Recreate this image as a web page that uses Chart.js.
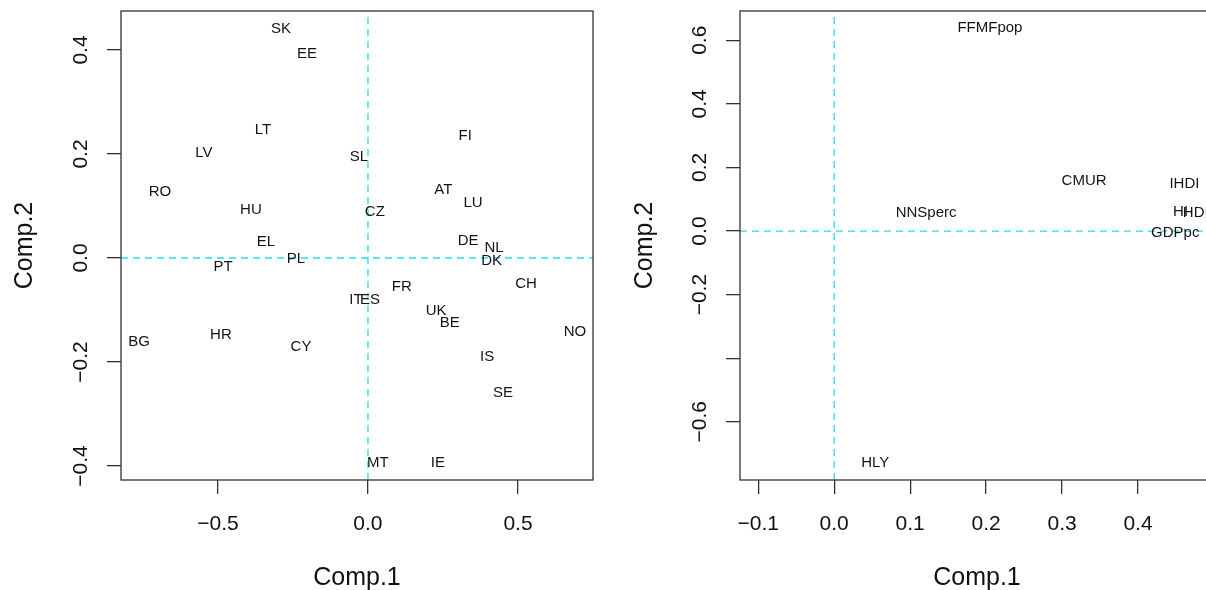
<!DOCTYPE html>
<html>
<head>
<meta charset="utf-8">
<script src="https://cdn.jsdelivr.net/npm/chart.js@4/dist/chart.umd.min.js"></script>
<style>
html,body{margin:0;padding:0;background:#fff;overflow:hidden;width:1206px;height:590px;}
.panel{position:absolute;top:0;}
</style>
</head>
<body>
<div class="panel" style="left:0px"><canvas id="scoresPlot" width="603" height="590"></canvas></div>
<div class="panel" style="left:620px"><canvas id="loadingsPlot" width="604" height="590"></canvas></div>
<script>
// country scores on the first two components
var countries = ['SK','EE','LT','FI','LV','SL','RO','AT','LU','HU','CZ','EL','DE','NL','PL','DK','PT','CH','FR','IT','ES','UK','BE','NO','HR','BG','CY','IS','SE','MT','IE'];
var scoreComp1 = [-0.29,-0.203,-0.35,0.324,-0.547,-0.03,-0.693,0.251,0.35,-0.39,0.023,-0.34,0.334,0.42,-0.24,0.412,-0.483,0.527,0.113,-0.04,0.007,0.227,0.273,0.69,-0.49,-0.763,-0.223,0.397,0.45,0.033,0.233];
var scoreComp2 = [0.440,0.392,0.246,0.235,0.202,0.194,0.127,0.131,0.106,0.092,0.088,0.031,0.033,0.019,-0.002,-0.006,-0.017,-0.050,-0.056,-0.081,-0.081,-0.102,-0.125,-0.143,-0.148,-0.162,-0.171,-0.191,-0.259,-0.394,-0.394];

// variable loadings
var variables = ['FFMFpop','CMUR','IHDI','NNSperc','HI','HDI','GDPpc','HLY'];
var loadComp1 = [0.205,0.329,0.461,0.121,0.456,0.476,0.449,0.054];
var loadComp2 = [0.638,0.157,0.148,0.057,0.060,0.056,-0.006,-0.730];

// axis ranges and ticks
var scoreXRange = [-0.823,0.75];
var scoreYRange = [-0.427,0.475];
var scoreXTicks = [-0.5,0,0.5];
var scoreYTicks = [-0.4,-0.2,0,0.2,0.4];
var scoreYLabels = ['\u22120.4','\u22120.2','0.0','0.2','0.4'];

var loadXRange = [-0.124,0.5];
var loadYRange = [-0.783,0.692];
var loadXTicks = [-0.1,0,0.1,0.2,0.3,0.4];
var loadYTicks = [-0.6,-0.4,-0.2,0,0.2,0.4,0.6];
var loadYLabels = ['\u22120.6','','\u22120.2','0.0','0.2','0.4','0.6'];

var FONT = '"Liberation Sans", Arial, sans-serif';
var CYAN = '#22e0ea';
var AXIS_COL = '#333';

function fmtTick(v){
	return v.toFixed(1).replace('-','\u2212');
}

// text labels at each point, the box, and rotated y tick labels
var biplotPlugin = {
	id:'biplot',
	afterDatasetsDraw:function(chart){
		var ctx = chart.ctx;
		var meta = chart.getDatasetMeta(2);
		var names = chart.options.plugins.biplot.names;
		ctx.save();
		ctx.font = '15px ' + FONT;
		ctx.fillStyle = '#141414';
		ctx.textAlign = 'center';
		ctx.textBaseline = 'middle';
		for(var i=0;i<meta.data.length;i++){
			ctx.fillText(names[i], meta.data[i].x, meta.data[i].y);
		}
		ctx.restore();
	},
	afterDraw:function(chart){
		var ctx = chart.ctx, a = chart.chartArea;
		var yScale = chart.scales.y;
		var opt = chart.options.plugins.biplot;
		ctx.save();
		ctx.strokeStyle = AXIS_COL;
		ctx.lineWidth = 1.3;
		ctx.strokeRect(a.left, a.top, a.right - a.left, a.bottom - a.top);
		ctx.font = '21px ' + FONT;
		ctx.fillStyle = '#111';
		ctx.textAlign = 'center';
		ctx.textBaseline = 'middle';
		for(var i=0;i<opt.yTicks.length;i++){
			if(!opt.yLabels[i]) continue;
			ctx.save();
			ctx.translate(a.left - 40, yScale.getPixelForValue(opt.yTicks[i]));
			ctx.rotate(-Math.PI/2);
			ctx.fillText(opt.yLabels[i], 0, 0);
			ctx.restore();
		}
		ctx.restore();
	}
};

function makeBiplot(canvasId, names, xs, ys, xRange, yRange, xTicks, yTicks, yLabels, yAxisWidth){
	var points = [];
	for(var i=0;i<names.length;i++){
		points.push({x:xs[i], y:ys[i]});
	}
	var refLine = {type:'line', borderColor:CYAN, borderWidth:1.3, borderDash:[7,5], pointRadius:0, fill:false};
	return new Chart(document.getElementById(canvasId).getContext('2d'), {
		type:'scatter',
		data:{
			datasets:[
				Object.assign({data:[{x:xRange[0],y:0},{x:xRange[1],y:0}]}, refLine),
				Object.assign({data:[{x:0,y:yRange[0]},{x:0,y:yRange[1]}]}, refLine),
				{data:points, pointRadius:0, pointHoverRadius:0}
			]
		},
		options:{
			responsive:false,
			animation:false,
			devicePixelRatio:1,
			layout:{padding:{left:0, top:11, right:10, bottom:0}},
			plugins:{
				legend:{display:false},
				tooltip:{enabled:false},
				biplot:{names:names, yTicks:yTicks, yLabels:yLabels}
			},
			scales:{
				x:{
					type:'linear', position:'bottom',
					min:xRange[0], max:xRange[1],
					afterBuildTicks:function(s){ s.ticks = xTicks.map(function(v){ return {value:v}; }); },
					afterFit:function(s){ s.height = 110; },
					border:{display:false},
					grid:{drawOnChartArea:false, drawTicks:true, tickLength:14, color:AXIS_COL, lineWidth:1.3},
					ticks:{padding:18, color:'#111', font:{family:FONT, size:21}, maxRotation:0, callback:function(v){ return fmtTick(v); }},
					title:{display:true, text:'Comp.1', color:'#111', font:{family:FONT, size:25}, padding:{top:0, bottom:-3}}
				},
				y:{
					type:'linear', position:'left',
					min:yRange[0], max:yRange[1],
					afterBuildTicks:function(s){ s.ticks = yTicks.map(function(v){ return {value:v}; }); },
					afterFit:function(s){ s.width = yAxisWidth; },
					border:{display:false},
					grid:{drawOnChartArea:false, drawTicks:true, tickLength:14, color:AXIS_COL, lineWidth:1.3},
					ticks:{display:false},
					title:{display:true, text:'Comp.2', color:'#111', font:{family:FONT, size:25}, padding:{top:10, bottom:0}}
				}
			}
		},
		plugins:[biplotPlugin]
	});
}

makeBiplot('scoresPlot', countries, scoreComp1, scoreComp2, scoreXRange, scoreYRange, scoreXTicks, scoreYTicks, scoreYLabels, 121);
makeBiplot('loadingsPlot', variables, loadComp1, loadComp2, loadXRange, loadYRange, loadXTicks, loadYTicks, loadYLabels, 120);
</script>
</body>
</html>
